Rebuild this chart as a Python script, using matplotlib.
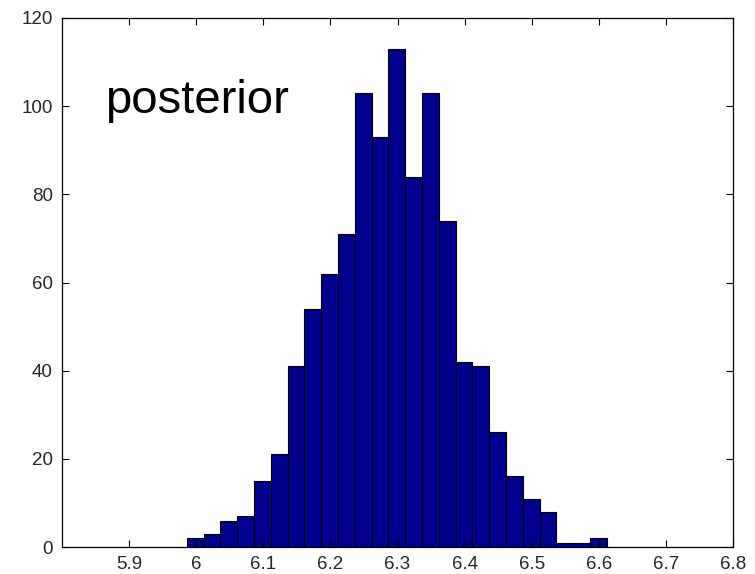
import numpy as np
import matplotlib
matplotlib.use("Agg")
import matplotlib.pyplot as plt

plt.rcParams['font.family'] = ['Liberation Sans', 'DejaVu Sans']

# histogram counts (25 bins)
counts = [2, 3, 6, 7, 15, 21, 41, 54, 62, 71, 103, 93, 113, 84, 103,
          74, 42, 41, 26, 16, 11, 8, 1, 1, 2]
bin_lo = 5.986
bin_hi = 6.612
xticks = [5.9, 6.0, 6.1, 6.2, 6.3, 6.4, 6.5, 6.6, 6.7, 6.8]
xticklabels = ['5.9', '6', '6.1', '6.2', '6.3', '6.4', '6.5', '6.6', '6.7', '6.8']
yticks = [0, 20, 40, 60, 80, 100, 120]

edges = np.linspace(bin_lo, bin_hi, len(counts) + 1)

fig = plt.figure(figsize=(7.55, 5.74), dpi=100)
ax = fig.add_axes([62 / 755, 27 / 574, 671 / 755, 529 / 574])

ax.bar(edges[:-1], counts, width=np.diff(edges), align='edge',
       color='#00008F', edgecolor='black', linewidth=0.8)

ax.set_xlim(5.8, 6.8)
ax.set_ylim(0, 120)
ax.set_xticks(xticks)
ax.set_xticklabels(xticklabels)
ax.set_yticks(yticks)
ax.tick_params(direction='in', length=5, width=0.8, top=True, right=True,
               labelsize=13.5, pad=6.5, colors='black', labelcolor='#262626')
for s in ax.spines.values():
    s.set_linewidth(0.9)

ax.text(5.864, 98.5, 'posterior', fontsize=34, ha='left', va='baseline')

fig.savefig('out.png', dpi=100)
